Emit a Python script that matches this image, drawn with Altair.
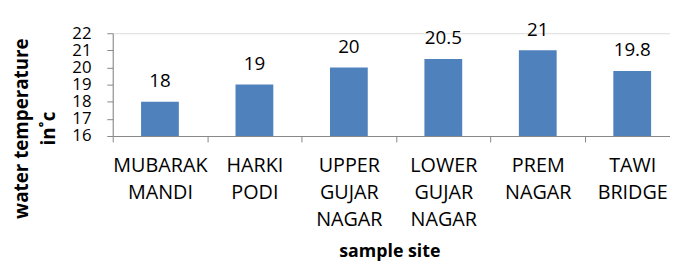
import json
import altair as alt
import pandas as pd

sites = ["MUBARAK MANDI", "HARKI PODI", "UPPER GUJAR NAGAR",
         "LOWER GUJAR NAGAR", "PREM NAGAR", "TAWI BRIDGE"]
temps = [18, 19, 20, 20.5, 21, 19.8]
y_ticks = [16, 17, 18, 19, 20, 21, 22]
y_base = 16

df = pd.DataFrame({"site": sites, "temp": temps})

FONT = "Open Sans"
AXIS_GRAY = "#868686"
BAR = "#4F81BD"

n = len(sites)
x_tick_values = [i * 0.5 for i in range(2 * n)]
names_js = json.dumps(sites)

x_axis = alt.Axis(
    title="sample site",
    values=x_tick_values,
    labelAngle=0,
    labelExpr=f"datum.value % 1 == 0 ? '' : split({names_js}[floor(datum.value)], ' ')",
    labelFont=FONT,
    labelFontSize=20,
    labelLineHeight=27.5,
    labelColor="#000000",
    labelPadding=14,
    labelBaseline="top",
    labelOverlap=False,
    labelBound=False,
    labelFlush=False,
    tickSize=6,
    tickColor=AXIS_GRAY,
    tickOpacity=alt.condition("datum.value % 1 == 0", alt.value(1), alt.value(0)),
    domainColor=AXIS_GRAY,
    grid=False,
    titleFont=FONT,
    titleFontSize=18,
    titleFontWeight="bold",
    titleColor="#000000",
    titleBaseline="alphabetic",
    titleX=280,
    titleY=122,
    titleAlign="center",
)

y_axis = alt.Axis(
    values=y_ticks,
    title=["water temperature", "in˚c"],
    titleFont=FONT,
    titleFontSize=19,
    titleFontWeight="bold",
    titleColor="#000000",
    titleLineHeight=27,
    titleAngle=270,
    titleAlign="center",
    titleBaseline="alphabetic",
    titleX=-86,
    titleY=96,
    labelFont=FONT,
    labelFontSize=17,
    labelColor="#000000",
    labelPadding=16,
    labelOverlap=False,
    labelBound=False,
    labelFlush=False,
    tickSize=6,
    tickColor=AXIS_GRAY,
    domainColor=AXIS_GRAY,
    grid=False,
)

# the last category band is cut by the right edge, as in the reference
x_scale = alt.Scale(domain=[0, 5.9], nice=False, zero=False)
y_scale = alt.Scale(domain=[16, 22], nice=False, zero=False)

base = alt.Chart(df).transform_window(
    idx="row_number()"
).transform_calculate(
    lo="datum.idx - 1 + 0.3",
    hi="datum.idx - 1 + 0.7",
    mid="datum.idx - 1 + 0.5",
)

bars = base.mark_bar(color=BAR).encode(
    x=alt.X("lo:Q", scale=x_scale, axis=x_axis),
    x2="hi:Q",
    y=alt.Y("temp:Q", scale=y_scale, axis=y_axis),
    y2=alt.datum(y_base),
)

labels = base.mark_text(
    dy=-15, baseline="alphabetic", align="center",
    font=FONT, fontSize=19, color="#000000"
).encode(
    x=alt.X("mid:Q", scale=x_scale, axis=x_axis),
    y=alt.Y("temp:Q", scale=y_scale, axis=y_axis),
    text=alt.Text("temp:Q"),
)

chart = alt.layer(bars, labels).properties(
    width=564,
    height=104,
    padding={"left": 106, "top": 24, "right": 0, "bottom": 128},
    autosize=alt.AutoSizeParams(type="none"),
).configure_view(stroke=None).configure(background="white")

chart.save("out.html", embed_options={"renderer": "svg", "actions": False})
